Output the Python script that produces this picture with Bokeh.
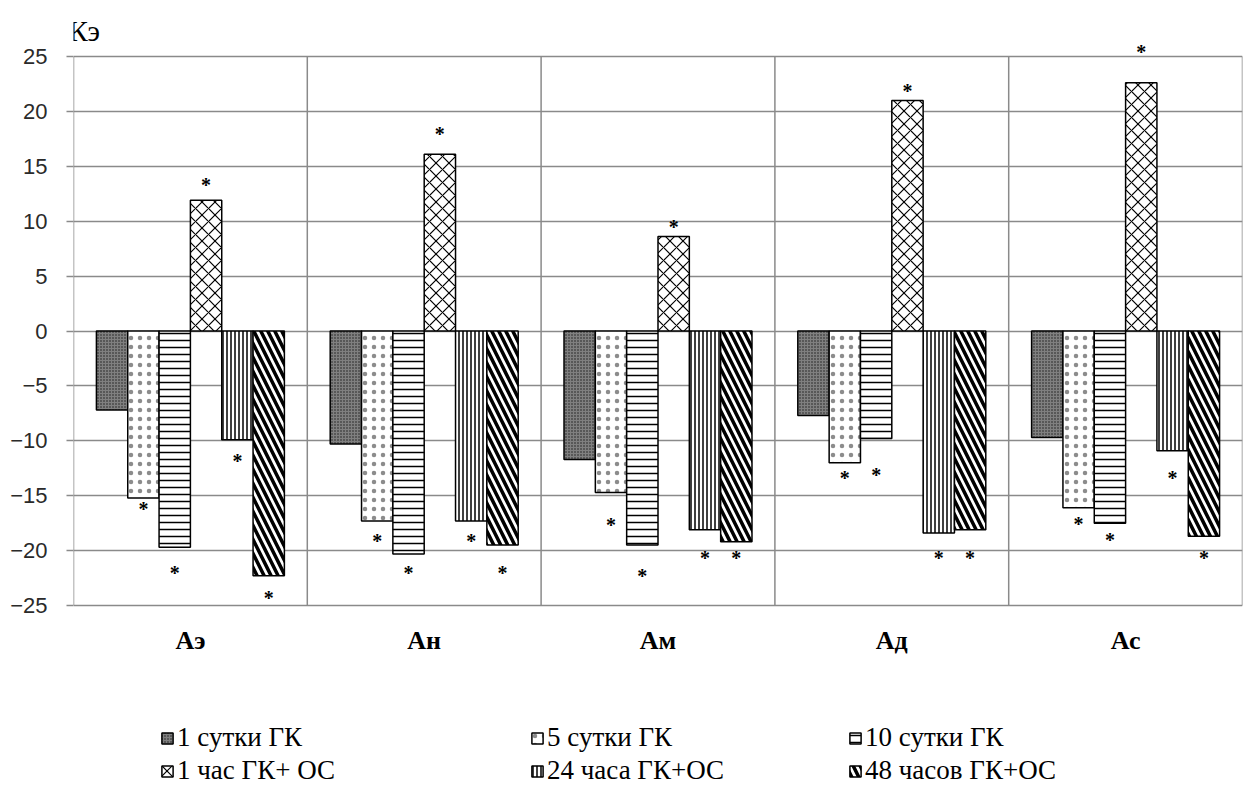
from bokeh.plotting import figure
from bokeh.models import FactorRange, Legend, LegendItem, ColumnDataSource, FixedTicker
from bokeh.transform import dodge
from bokeh.embed import file_html
from bokeh.resources import INLINE
from bokeh.core.properties import value

groups = ["Аэ", "Ан", "Ам", "Ад", "Ас"]
series = ["1 сутки ГК", "5 сутки ГК", "10 сутки ГК", "1 час ГК+ ОС", "24 часа ГК+ОС", "48 часов ГК+ОС"]

vals = {
    "1 сутки ГК":     [-7.2, -10.3, -11.7, -7.7, -9.7],
    "5 сутки ГК":     [-15.2, -17.3, -14.7, -12.0, -16.1],
    "10 сутки ГК":    [-19.7, -20.3, -19.5, -9.8, -17.5],
    "1 час ГК+ ОС":   [11.9, 16.1, 8.6, 21.0, 22.6],
    "24 часа ГК+ОС":  [-9.9, -17.3, -18.1, -18.4, -10.9],
    "48 часов ГК+ОС": [-22.3, -19.5, -19.2, -18.1, -18.7],
}

# asterisk (significance mark) heights; None = no mark
stars = {
    "1 сутки ГК":     [None, None, None, None, None],
    "5 сутки ГК":     [-15.7, -18.6, -17.1, -12.8, -17.0],
    "10 сутки ГК":    [-21.5, -21.5, -21.8, -12.6, -18.5],
    "1 час ГК+ ОС":   [13.8, 18.5, 10.0, 22.4, 26.0],
    "24 часа ГК+ОС":  [-11.3, -18.6, -20.1, -20.1, -12.8],
    "48 часов ГК+ОС": [-23.8, -21.5, -20.1, -20.1, -20.1],
}

yticks = [-25, -20, -15, -10, -5, 0, 5, 10, 15, 20, 25]
y_label = "Кэ"

styles = {
    "1 сутки ГК":     dict(fill_color="#808080", hatch_pattern="dot", hatch_scale=3, hatch_weight=1, hatch_color="#1a1a1a"),
    "5 сутки ГК":     dict(fill_color="white", hatch_pattern="dot", hatch_scale=9, hatch_weight=1, hatch_color="black", hatch_alpha=0.45),
    "10 сутки ГК":    dict(fill_color="white", hatch_pattern="horizontal_line", hatch_scale=7, hatch_weight=1.5, hatch_color="black"),
    "1 час ГК+ ОС":   dict(fill_color="white", hatch_pattern="diagonal_cross", hatch_scale=13, hatch_weight=1.2, hatch_color="black"),
    "24 часа ГК+ОС":  dict(fill_color="white", hatch_pattern="vertical_line", hatch_scale=4, hatch_weight=1.5, hatch_color="black"),
    "48 часов ГК+ОС": dict(fill_color="white", hatch_pattern="left_diagonal_line", hatch_scale=14, hatch_weight=3.5, hatch_color="black"),
}

BW = 0.134          # bar width as a fraction of a group
PX = 549 / 50.0     # pixels per y unit
FRAME_H = 786
Y_TOP = 25 + 56 / PX
Y_BOT = Y_TOP - FRAME_H / PX

xr = FactorRange(*groups, range_padding=0, factor_padding=0)
p = figure(x_range=xr, y_range=(Y_BOT, Y_TOP),
           output_backend="svg", toolbar_location=None,
           min_border_left=73, min_border_top=0, min_border_right=6, min_border_bottom=0,
           frame_width=1169, frame_height=FRAME_H)
p.outline_line_color = None
p.background_fill_color = "white"
p.xaxis.visible = False
p.xgrid.visible = False

# y grid and axis
p.ygrid.ticker = FixedTicker(ticks=yticks)
p.ygrid.grid_line_color = "#8a8a8a"
p.ygrid.grid_line_width = 1.5
p.yaxis.ticker = FixedTicker(ticks=yticks)
p.yaxis.axis_line_color = None
p.yaxis.major_tick_line_color = "#8a8a8a"
p.yaxis.major_tick_line_width = 1.5
p.yaxis.major_tick_out = 7
p.yaxis.major_tick_in = 0
p.yaxis.minor_tick_line_color = None
p.yaxis.major_label_text_font = "Liberation Sans"
p.yaxis.major_label_text_font_size = "22px"
p.yaxis.major_label_text_color = "#2a2a2a"
p.yaxis.major_label_standoff = 19

# vertical lines: axis at the left and separators between groups
xs0 = [(groups[0], -0.5)] + [(g, 0.5) for g in groups]
p.segment(x0=xs0, y0=[yticks[0]] * len(xs0), x1=xs0, y1=[yticks[-1]] * len(xs0),
          line_color="#8a8a8a", line_width=1.5)

renderers = {}
for i, s in enumerate(series):
    off = (i - 2.5) * BW
    src = ColumnDataSource(dict(x=groups, top=vals[s]))
    r = p.vbar(x=dodge("x", off, range=p.x_range), top="top", bottom=0, width=BW, source=src,
               line_color="black", line_width=1.5, **styles[s])
    renderers[s] = r
    sx = [g for g, v in zip(groups, stars[s]) if v is not None]
    sy = [v for v in stars[s] if v is not None]
    if sx:
        ssrc = ColumnDataSource(dict(x=sx, y=sy))
        p.text(x=dodge("x", off, range=p.x_range), y="y", source=ssrc, text=value("*"),
               text_align="center", text_baseline="middle", y_offset=6,
               text_font=value("Liberation Serif"), text_font_style="bold",
               text_font_size="20px", text_color="black")

# category labels under the plot
p.text(x=groups, y=[yticks[0] - 3.2] * len(groups), text=groups,
       text_align="center", text_baseline="middle",
       text_font=value("Liberation Serif"), text_font_style="bold",
       text_font_size="26px", text_color="black")

# y caption
p.text(x=[(groups[0], -0.5)], y=[yticks[-1] + 2.3], text=[y_label], x_offset=-5,
       text_align="left", text_baseline="middle",
       text_font=value("Liberation Serif"), text_font_size="29px", text_color="black")

# legends: three columns, two rows
cols = [(87, [series[0], series[3]]), (457, [series[1], series[4]]), (775, [series[2], series[5]])]
for xpos, names in cols:
    leg = Legend(items=[LegendItem(label=n, renderers=[renderers[n]]) for n in names],
                 location=(xpos, 0), orientation="vertical",
                 glyph_width=14, glyph_height=14, label_standoff=3, spacing=2,
                 padding=0, margin=0, border_line_color=None, background_fill_alpha=0,
                 label_text_font="Liberation Serif", label_text_font_style="normal",
                 label_text_font_size="27px", label_text_color="black", label_height=30)
    p.add_layout(leg, "center")

open("out.html", "w").write(file_html(p, INLINE))
